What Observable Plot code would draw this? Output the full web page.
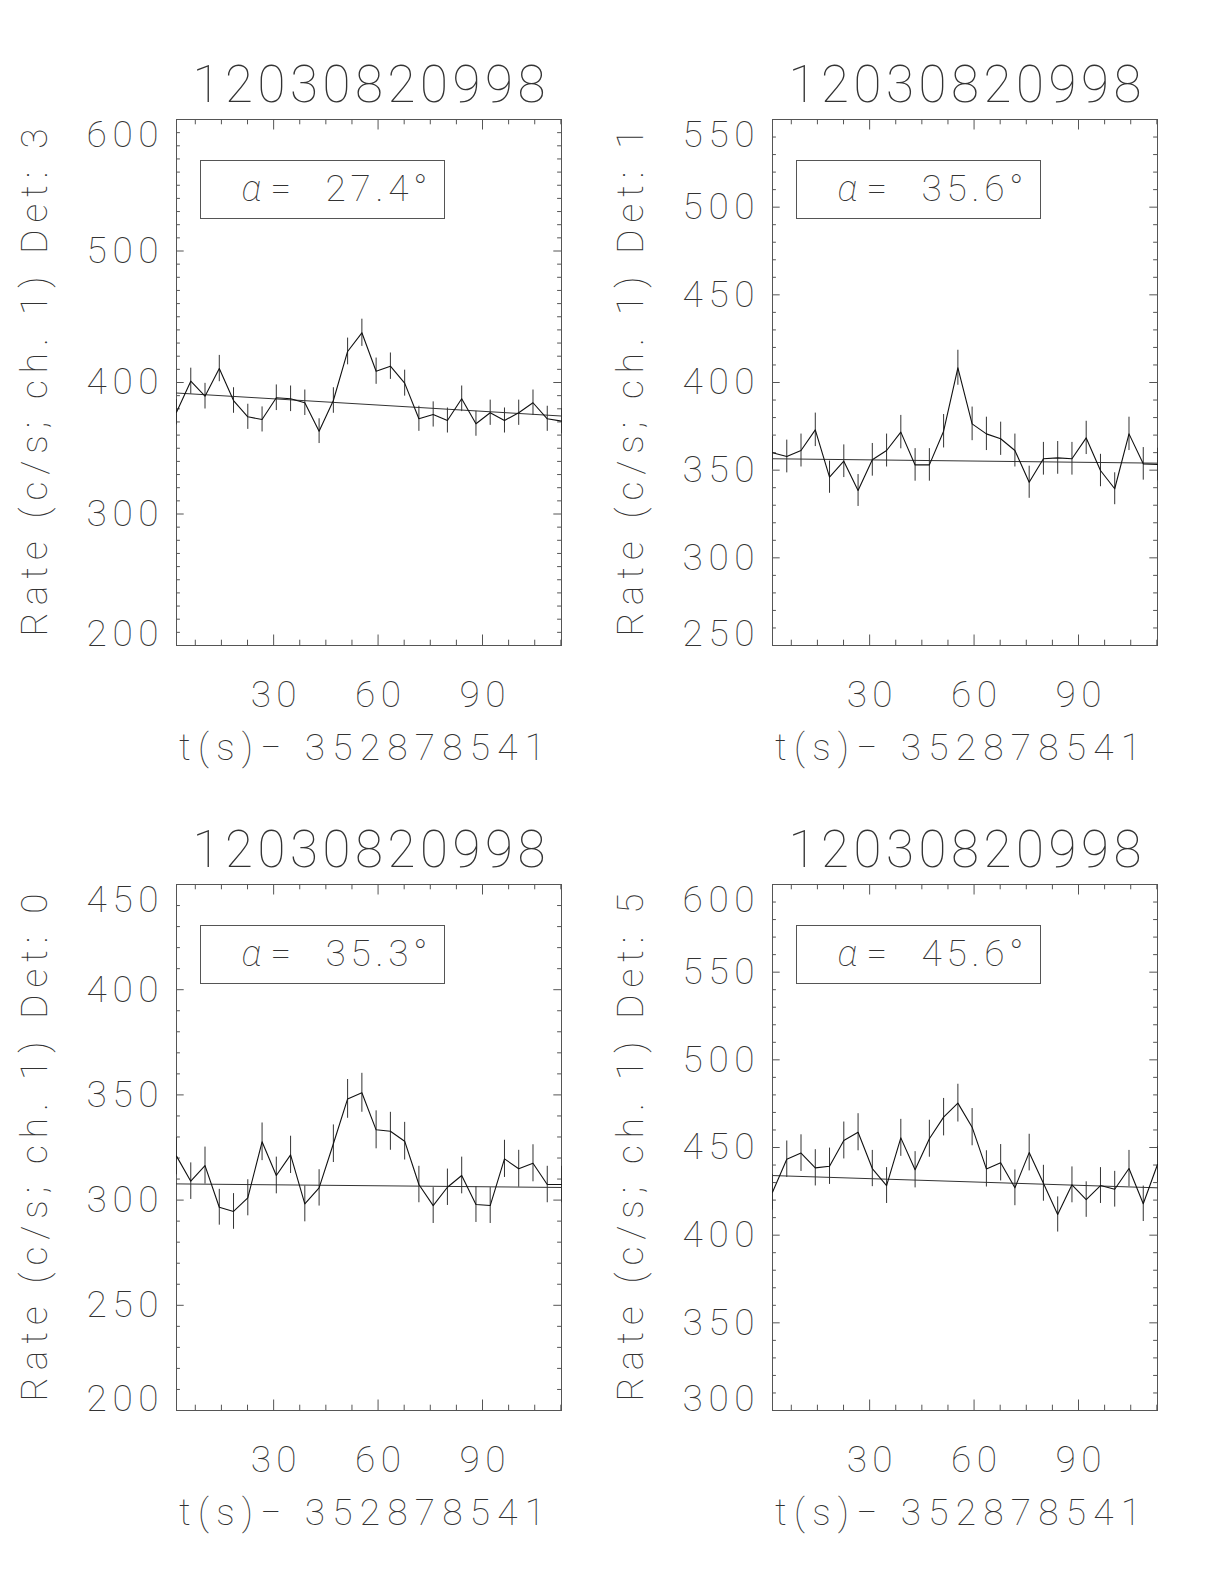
<!DOCTYPE html>
<html><head><meta charset="utf-8">
<script src="https://cdn.jsdelivr.net/npm/d3@7"></script>
<script src="https://cdn.jsdelivr.net/npm/@observablehq/plot@0.6"></script>
<style>
body{margin:0;background:#fff;width:1224px;height:1584px;position:relative;overflow:hidden}
.p{position:absolute}
.p svg text{font-family:Roboto,"DejaVu Sans",sans-serif;font-weight:100}
</style></head><body>
<script>
// ---- data ----
const burstId = "12030820998";
const tOffset = "352878541";
const times = [2.10, 6.20, 10.29, 14.39, 18.48, 22.58, 26.68, 30.77, 34.87, 38.96, 43.06, 47.16, 51.25, 55.35,
  59.44, 63.54, 67.64, 71.73, 75.83, 79.92, 84.02, 88.12, 92.21, 96.31, 100.40, 104.50, 108.60, 112.69];
const binWidth = 4.096;
const detectors = [3, 1, 0, 5];
const alphas = ["27.4", "35.6", "35.3", "45.6"];
const ratesDet3 = [377.4, 401.0, 389.6, 410.6, 386.3, 373.9, 371.9, 388.4, 387.6, 384.6, 363.0, 386.3, 423.6, 437.8,
  408.6, 412.4, 399.5, 372.4, 375.7, 371.1, 387.6, 368.6, 377.0, 371.1, 377.0, 384.6, 372.4, 370.6];
const ratesDet1 = [359.9, 357.8, 361.2, 373.0, 346.0, 355.1, 338.4, 355.9, 361.2, 371.7, 353.0, 353.0, 372.2, 408.4,
  376.4, 370.7, 367.9, 361.2, 343.1, 356.5, 357.0, 356.5, 368.4, 349.8, 339.4, 370.7, 353.6, 353.2];
const ratesDet0 = [320.9, 309.0, 316.4, 296.6, 294.6, 301.1, 327.7, 311.7, 321.5, 298.2, 305.8, 326.8, 348.1, 351.0,
  333.4, 332.7, 328.0, 307.4, 297.4, 306.1, 311.7, 297.9, 297.4, 319.6, 314.9, 317.5, 307.4, 307.4];
const ratesDet5 = [424.5, 443.3, 446.8, 438.4, 439.3, 454.0, 458.7, 438.0, 428.3, 455.5, 437.3, 455.0, 467.3, 475.3,
  461.6, 437.8, 441.3, 427.0, 447.1, 429.6, 411.8, 428.7, 420.3, 428.3, 426.2, 438.0, 417.9, 440.3];
const fitDet3 = [392.0, 374.5];
const fitDet1 = [356.5, 354.0];
const fitDet0 = [307.7, 306.0];
const fitDet5 = [434.0, 427.0];
const yDomainDet3 = [200, 600], yTicksDet3 = [200, 300, 400, 500, 600];
const yDomainDet1 = [250, 550], yTicksDet1 = [250, 300, 350, 400, 450, 500, 550];
const yDomainDet0 = [200, 450], yTicksDet0 = [200, 250, 300, 350, 400, 450];
const yDomainDet5 = [300, 600], yTicksDet5 = [300, 350, 400, 450, 500, 550, 600];
const xTicks = [30, 60, 90];
const xMinorStep = 7.5, yMinorStep = 10;

const rateSets = [ratesDet3, ratesDet1, ratesDet0, ratesDet5];
const fitSets = [fitDet3, fitDet1, fitDet0, fitDet5];
const yDomains = [yDomainDet3, yDomainDet1, yDomainDet0, yDomainDet5];
const yTickSets = [yTicksDet3, yTicksDet1, yTicksDet0, yTicksDet5];

// ---- layout ----
const W = 385, H = 526, FS = 37;
const ink = "#333", axc = "#555";
const positions = [
  {left: 0, top: 0, width: 596, height: 792, mt: 119},
  {left: 596, top: 0, width: 628, height: 792, mt: 119},
  {left: 0, top: 792, width: 596, height: 792, mt: 92},
  {left: 596, top: 792, width: 628, height: 792, mt: 92}
];
const ML = 176;

function panel(i) {
  const pos = positions[i];
  const rates = rateSets[i];
  const data = times.map((t, k) => ({t, r: rates[k], e: Math.sqrt(rates[k] / binWidth)}));
  const fit = [{t: times[0], r: fitSets[i][0]}, {t: times[times.length - 1], r: fitSets[i][1]}];
  const xd = [times[0], times[times.length - 1]];
  const yd = yDomains[i];
  const yt = yTickSets[i];
  const xMinor = d3.range(xMinorStep, xd[1], xMinorStep).filter(v => v >= xd[0] && !xTicks.includes(v));
  const yMinor = d3.range(yd[0], yd[1] + 1e-9, yMinorStep).filter(v => !yt.includes(v));
  const common = {fill: ink, fontSize: FS};
  const svg = Plot.plot({
    width: pos.width, height: pos.height,
    marginLeft: ML, marginTop: pos.mt,
    marginRight: pos.width - ML - W, marginBottom: pos.height - pos.mt - H,
    x: {domain: xd, axis: null},
    y: {domain: yd, axis: null},
    marks: [
      Plot.frame({stroke: axc}),
      Plot.ruleX(xMinor, {x: d => d, insetTop: H - 5.3, stroke: axc}),
      Plot.ruleX(xMinor, {x: d => d, insetBottom: H - 5.3, stroke: axc}),
      Plot.ruleX(xTicks, {x: d => d, insetTop: H - 10.5, stroke: axc}),
      Plot.ruleX(xTicks, {x: d => d, insetBottom: H - 10.5, stroke: axc}),
      Plot.ruleY(yMinor, {y: d => d, insetRight: W - 3.9, stroke: axc}),
      Plot.ruleY(yMinor, {y: d => d, insetLeft: W - 3.9, stroke: axc}),
      Plot.ruleY(yt, {y: d => d, insetRight: W - 7.7, stroke: axc}),
      Plot.ruleY(yt, {y: d => d, insetLeft: W - 7.7, stroke: axc}),
      Plot.text(yt.slice(1, -1), {y: d => d, text: d => String(d), frameAnchor: "left", dx: -18, textAnchor: "end", lineAnchor: "middle", ...common}),
      Plot.text([yt[yt.length - 1]], {y: d => d, text: d => String(d), frameAnchor: "left", dx: -18, dy: 1, textAnchor: "end", lineAnchor: "top", ...common}),
      Plot.text([yt[0]], {y: d => d, text: d => String(d), frameAnchor: "left", dx: -18, textAnchor: "end", lineAnchor: "bottom", ...common}),
      Plot.text(xTicks, {x: d => d, text: d => String(d), frameAnchor: "bottom", dy: 61, lineAnchor: "bottom", ...common}),
      Plot.text([`t(s)\u2212 ${tOffset}`], {frameAnchor: "bottom", dx: -7, dy: 114, lineAnchor: "bottom", ...common}),
      Plot.text([`Rate (c/s; ch. 1) Det: ${detectors[i]}`], {frameAnchor: "left", dx: -141, rotate: -90, lineAnchor: "middle", textAnchor: "middle", ...common}),
      Plot.text([burstId], {frameAnchor: "top", dy: -18, lineAnchor: "bottom", fill: ink, fontSize: 51}),
      Plot.frame({stroke: axc, insetLeft: 24, insetTop: 41, insetRight: W - 24 - 244, insetBottom: H - 41 - 58}),
      Plot.text(["\u03b1"], {frameAnchor: "top-left", dx: 65, dy: 70, lineAnchor: "middle", textAnchor: "start", fontStyle: "italic", ...common}),
      Plot.text(["="], {frameAnchor: "top-left", dx: 94, dy: 70, lineAnchor: "middle", textAnchor: "start", ...common}),
      Plot.text([`${alphas[i]}\u00b0`], {frameAnchor: "top-left", dx: 149, dy: 70, lineAnchor: "middle", textAnchor: "start", ...common}),
      Plot.ruleX(data, {x: "t", y1: d => d.r - d.e, y2: d => d.r + d.e, stroke: ink, strokeWidth: 1}),
      Plot.line(fit, {x: "t", y: "r", stroke: ink, strokeWidth: 1}),
      Plot.line(data, {x: "t", y: "r", stroke: "#111", strokeWidth: 1.1})
    ]
  });
  // stretch text spacing to match the wide stroke-font look of the original
  d3.select(svg).selectAll("text").each(function() {
    const s = this.textContent;
    let len = null;
    if (s.startsWith("Rate")) len = 508;
    else if (s.startsWith("t(s)")) len = 366;
    else if (s === burstId) len = 353;
    else if (/^\d{3}$/.test(s)) len = 72;
    else if (/^\d{2}$/.test(s)) len = 46;
    else if (s.endsWith("\u00b0")) len = 102;
    if (len) { this.setAttribute("textLength", len); this.setAttribute("lengthAdjust", "spacing"); }
  });
  const div = document.createElement("div");
  div.className = "p";
  div.style.left = pos.left + "px";
  div.style.top = pos.top + "px";
  div.appendChild(svg);
  document.body.appendChild(div);
}
[0, 1, 2, 3].forEach(panel);
</script>
</body></html>
